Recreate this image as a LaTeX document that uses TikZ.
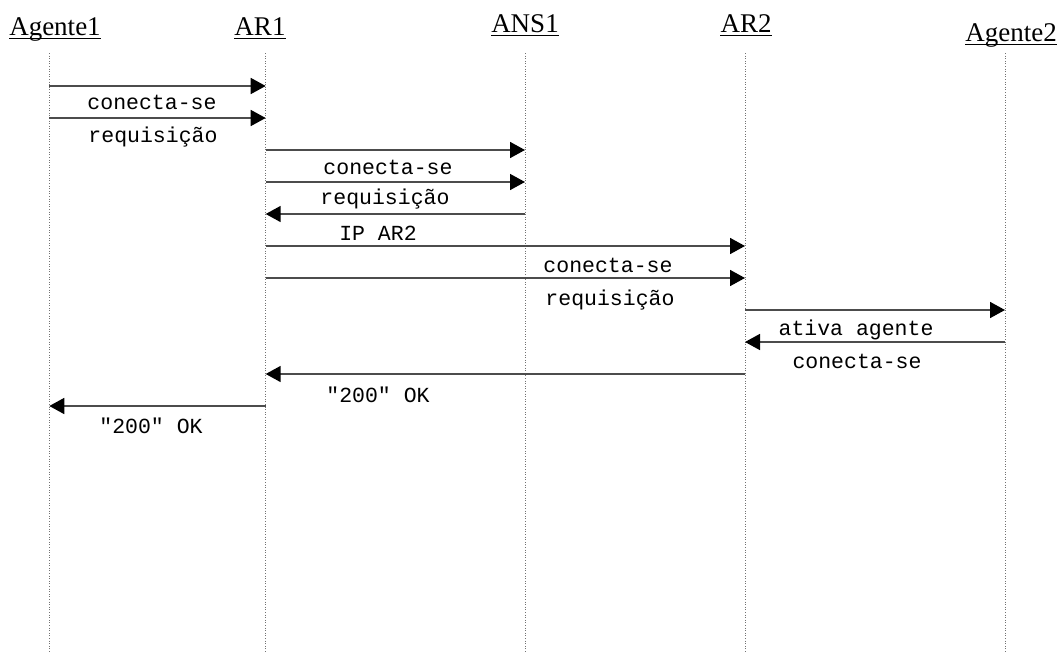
\documentclass[tikz,border=0pt]{standalone}
\usepackage{fontspec}
\setmainfont{Liberation Serif}
\newfontfamily\monofont{Liberation Mono}
\usetikzlibrary{arrows.meta}

\tikzset{
  head/.style={font=\fontsize{27}{29}\selectfont, anchor=base, inner sep=0pt},
  uline/.style={line width=1.8pt, black},
  lifeline/.style={black!55, line width=0.8pt, dash pattern=on 1pt off 1.6pt},
  msg/.style={black!70, line width=1.6pt,
    -{Triangle[length=15pt, width=16pt, fill=black, color=black]}},
  lbl/.style={font=\monofont\fontsize{21.5}{24}\selectfont, anchor=base, inner sep=0pt},
}

\begin{document}
\begin{tikzpicture}[x=1pt, y=-1pt]
\useasboundingbox (0,0) rectangle (1059,653);

% participants
\node[head] (hA1) at (55,35)   {Agente1};
\node[head] (hR1) at (260,35)  {AR1};
\node[head] (hN1) at (525,32)  {ANS1};
\node[head] (hR2) at (746,32)  {AR2};
\node[head] (hA2) at (1011,41) {Agente2};
\foreach \h in {hA1,hR1,hN1,hR2,hA2}
  \draw[uline] ([yshift=-3.5pt]\h.base west) -- ([yshift=-3.5pt]\h.base east);

% lifelines
\coordinate (A1) at (49.3,53);  \coordinate (A1b) at (49.3,653);
\coordinate (R1) at (265.7,53); \coordinate (R1b) at (265.7,653);
\coordinate (N1) at (525,53);   \coordinate (N1b) at (525,653);
\coordinate (R2) at (745,53);   \coordinate (R2b) at (745,653);
\coordinate (A2) at (1005,53);  \coordinate (A2b) at (1005,653);
\foreach \t/\b in {A1/A1b,R1/R1b,N1/N1b,R2/R2b,A2/A2b}
  \draw[lifeline] (\t) -- (\b);

% messages
\draw[msg] (A1 |- 0,86)  -- (R1 |- 0,86);
\draw[msg] (A1 |- 0,118) -- (R1 |- 0,118);
\draw[msg] (R1 |- 0,150) -- (N1 |- 0,150);
\draw[msg] (R1 |- 0,182) -- (N1 |- 0,182);
\draw[msg] (N1 |- 0,214) -- (R1 |- 0,214);
\draw[msg] (R1 |- 0,246) -- (R2 |- 0,246);
\draw[msg] (R1 |- 0,278) -- (R2 |- 0,278);
\draw[msg] (R2 |- 0,310) -- (A2 |- 0,310);
\draw[msg] (A2 |- 0,342) -- (R2 |- 0,342);
\draw[msg] (R2 |- 0,374) -- (R1 |- 0,374);
\draw[msg] (R1 |- 0,406) -- (A1 |- 0,406);

% labels
\node[lbl] (l1)  at (152,109) {conecta-se};
\node[lbl] (l2)  at (153,142) {requisição};
\node[lbl] (l3)  at (388,174) {conecta-se};
\node[lbl] (l4)  at (385,204) {requisição};
\node[lbl] (l5)  at (378,240) {IP AR2};
\node[lbl] (l6)  at (608,272) {conecta-se};
\node[lbl] (l7)  at (610,305) {requisição};
\node[lbl] (l8)  at (856,335) {ativa agente};
\node[lbl] (l9)  at (857,368) {conecta-se};
\node[lbl] (l10) at (378,402) {"200" OK};
\node[lbl] (l11) at (151,433) {"200" OK};
\end{tikzpicture}
\end{document}
